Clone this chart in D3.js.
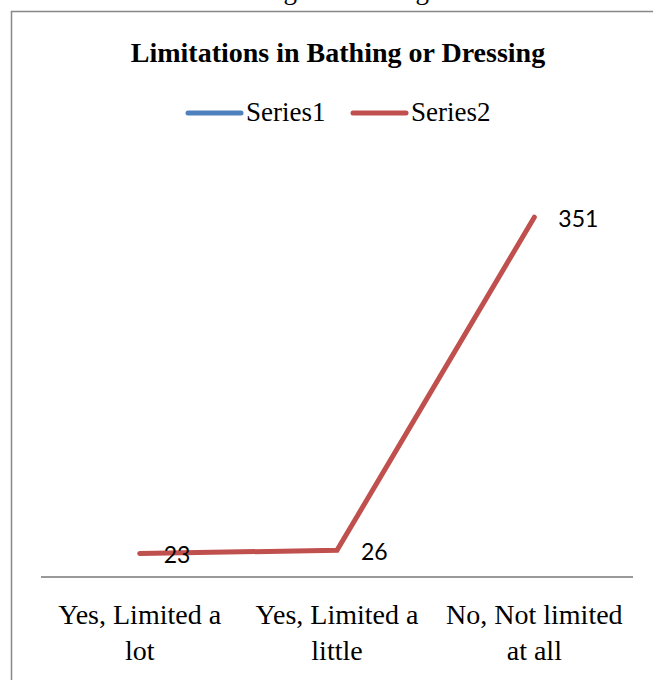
<!DOCTYPE html>
<html>
<head>
<meta charset="utf-8">
<script src="https://cdn.jsdelivr.net/npm/d3@7"></script>
<style>
  body { margin: 0; background: #fff; }
</style>
</head>
<body>
<script>
// chart data
var categories = [["Yes, Limited a", "lot"], ["Yes, Limited a", "little"], ["No, Not limited", "at all"]];
var seriesNames = ["Series1", "Series2"];
var series1 = [];            // nothing plotted for Series1
var series2 = [23, 26, 351];
var colors = ["#4F81BD", "#C0504D"];

var w = 653;
var h = 680;

var svg = d3.select("body").append("svg")
            .attr("width", w)
            .attr("height", h);

// caption of the page above the chart, mostly cut off
svg.append("text")
    .attr("x", 429)
    .attr("y", -1)
    .attr("text-anchor", "end")
    .attr("font-family", "Liberation Serif, serif")
    .attr("font-size", "27px")
    .attr("fill", "#000")
    .text("Limitations in Bathing or Dressing");

// chart border (runs off the picture to the right and bottom)
svg.append("rect")
    .attr("x", 11.5)
    .attr("y", 11.5)
    .attr("width", 800)
    .attr("height", 800)
    .attr("fill", "none")
    .attr("stroke", "#888")
    .attr("stroke-width", 1.5);

// title
svg.append("text")
    .attr("x", 338)
    .attr("y", 62)
    .attr("text-anchor", "middle")
    .attr("font-family", "Liberation Serif, serif")
    .attr("font-weight", "bold")
    .attr("font-size", "28px")
    .text("Limitations in Bathing or Dressing");

// legend
var legendX = [188, 353];
seriesNames.forEach(function(name, i) {
    svg.append("line")
        .attr("x1", legendX[i]).attr("x2", legendX[i] + 53)
        .attr("y1", 113).attr("y2", 113)
        .attr("stroke", colors[i])
        .attr("stroke-width", 5)
        .attr("stroke-linecap", "round");
    svg.append("text")
        .attr("x", legendX[i] + 58)
        .attr("y", 121)
        .attr("font-family", "Liberation Serif, serif")
        .attr("font-size", "27px")
        .text(name);
});

// scales
var x = d3.scalePoint()
          .domain(d3.range(categories.length))
          .range([41, 633])
          .padding(0.5);

var y = d3.scaleLinear()
          .domain([0, 400])
          .range([577, 167]);

// category axis
svg.append("line")
    .attr("x1", 41).attr("x2", 633)
    .attr("y1", 577).attr("y2", 577)
    .attr("stroke", "#999")
    .attr("stroke-width", 2);

var catText = svg.selectAll("text.cat")
    .data(categories)
    .enter()
    .append("text")
    .attr("class", "cat")
    .attr("text-anchor", "middle")
    .attr("font-family", "Liberation Serif, serif")
    .attr("font-size", "28px");

catText.selectAll("tspan")
    .data(function(d, i) { return d.map(function(s) { return { s: s, i: i }; }); })
    .enter()
    .append("tspan")
    .attr("x", function(d) { return x(d.i); })
    .attr("y", function(d, j) { return 624 + j * 36; })
    .text(function(d) { return d.s; });

// lines
var line = d3.line()
             .x(function(d, i) { return x(i); })
             .y(function(d) { return y(d); });

[series1, series2].forEach(function(s, k) {
    if (!s.length) return;
    svg.append("path")
        .datum(s)
        .attr("d", line)
        .attr("fill", "none")
        .attr("stroke", colors[k])
        .attr("stroke-width", 5)
        .attr("stroke-linejoin", "miter")
        .attr("stroke-linecap", "round");

    svg.selectAll("text.lbl" + k)
        .data(s)
        .enter()
        .append("text")
        .attr("class", "lbl" + k)
        .attr("x", function(d, i) { return x(i) + 24; })
        .attr("y", function(d) { return y(d) + 10; })
        .attr("font-family", "Lato, sans-serif")
        .attr("font-size", "23px")
        .text(function(d) { return d; });
});
</script>
</body>
</html>
